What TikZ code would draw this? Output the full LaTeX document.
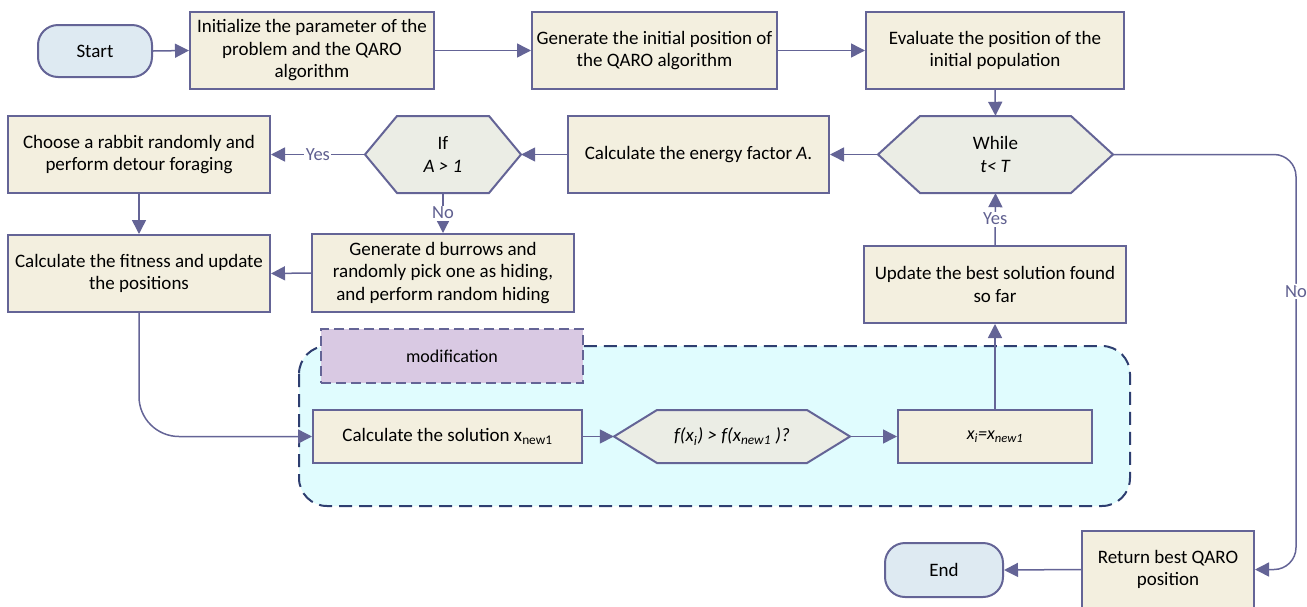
\documentclass[tikz,border=0pt]{standalone}
\usepackage{fontspec}
\setmainfont{Carlito}
\usetikzlibrary{arrows.meta,calc}
\definecolor{linec}{RGB}{100,100,150}
\definecolor{boxfill}{RGB}{243,239,223}
\definecolor{hexfill}{RGB}{235,237,229}
\definecolor{termfill}{RGB}{222,234,242}
\definecolor{regfill}{RGB}{224,252,254}
\definecolor{regline}{RGB}{46,62,112}
\definecolor{modfill}{RGB}{217,201,227}
\definecolor{labc}{RGB}{96,96,144}
\newcommand\hexshape[5]{%
  \draw[hexdraw] ({#1-#3/2},#2) -- ({#1-#3/2+#5},{#2-#4/2}) -- ({#1+#3/2-#5},{#2-#4/2})
   -- ({#1+#3/2},#2) -- ({#1+#3/2-#5},{#2+#4/2}) -- ({#1-#3/2+#5},{#2+#4/2}) -- cycle;}
\begin{document}
\begin{tikzpicture}[x=1pt,y=-1pt,
  every node/.style={font=\fontsize{19}{22.5}\selectfont, align=center, inner sep=0pt},
  procbox/.style={draw=linec, line width=2pt, fill=boxfill, rectangle},
  termbox/.style={draw=linec, line width=2pt, fill=termfill, rounded corners=20pt},
  hexdraw/.style={draw=linec, line width=2pt, fill=hexfill, line join=miter},
  hextext/.style={rectangle},
  conn/.style={draw=linec, line width=1.5pt, -{Triangle[length=14pt,width=14pt]}},
  lab/.style={fill=white, text=labc, font=\fontsize{18.5}{21}\selectfont, inner sep=1.5pt},
]
\useasboundingbox (0,0) rectangle (1307,606);

% modification region
\draw[draw=regline, fill=regfill, line width=2pt, dash pattern=on 13pt off 7pt, rounded corners=28pt]
  (299,346) rectangle (1130,506);
\node[draw=linec, line width=1.8pt, fill=modfill, dash pattern=on 10pt off 5pt,
  minimum width=262pt, minimum height=54pt, font=\fontsize{18}{21}\selectfont] (modif) at (452,356) {modification};

% nodes
\node[termbox, minimum width=114pt, minimum height=52pt] (start) at (95,51) {Start};
\node[procbox, minimum width=244pt, minimum height=77pt] (init) at (312,50.5)
  {Initialize the parameter of the\\problem and the QARO\\algorithm};
\node[procbox, minimum width=245pt, minimum height=77pt] (gen) at (654.5,50.5)
  {Generate the initial position of\\the QARO algorithm};
\node[procbox, minimum width=258pt, minimum height=77pt] (eval) at (995,50.5)
  {Evaluate the position of the\\initial population};

\hexshape{995.5}{154.5}{235}{77}{42}
\node[hextext, minimum width=235pt, minimum height=77pt] (while) at (995.5,154.5)
  {While\\\textit{t}\textit{< T}};
\node[procbox, minimum width=261pt, minimum height=77pt] (energy) at (698.5,154.5)
  {Calculate the energy factor \textit{A}.};
\hexshape{443}{154.5}{156}{77}{32}
\node[hextext, minimum width=156pt, minimum height=77pt] (if) at (443,154.5)
  {If\\\textit{A > 1}};
\node[procbox, minimum width=262pt, minimum height=77pt] (choose) at (139,154.5)
  {Choose a rabbit randomly and\\perform detour foraging};
\node[procbox, minimum width=262pt, minimum height=77pt] (fit) at (139,273.5)
  {Calculate the fitness and update\\the positions};
\node[procbox, minimum width=262pt, minimum height=78pt] (burrow) at (443,273)
  {Generate d burrows and\\randomly pick one as hiding,\\and perform random hiding};
\node[procbox, minimum width=262pt, minimum height=77pt] (update) at (995,284.5)
  {Update the best solution found\\so far};

\node[procbox, minimum width=269pt, minimum height=53pt] (sol) at (447.5,436.5)
  {Calculate the solution x\textsubscript{new1}};
\hexshape{732}{436.5}{236}{53}{43}
\node[hextext, minimum width=236pt, minimum height=53pt, font=\fontsize{19}{22}\selectfont] (fx) at (732,436.5)
  {\textit{f(x\textsubscript{i}) > f(x\textsubscript{new1} )?}};
\node[procbox, minimum width=194pt, minimum height=53pt, font=\fontsize{18}{21}\selectfont] (xi) at (995,436.5)
  {\textit{x\textsubscript{i}=x\textsubscript{new1}}};

\node[procbox, minimum width=172pt, minimum height=77pt] (ret) at (1168,569.5)
  {Return best QARO\\position};
\node[termbox, minimum width=118pt, minimum height=54pt] (end) at (944,570) {End};

\coordinate (nc) at (1296,154.5);

% connectors
\draw[conn] (start.east) -- (init.west);
\draw[conn] (init.east) -- (gen.west);
\draw[conn] (gen.east) -- (eval.west);
\draw[conn] (eval.south) -- (while.north);
\draw[conn] (while.west) -- (energy.east);
\draw[conn] (energy.west) -- (if.east);
\draw[conn] (if.west) -- node[lab] {Yes} (choose.east);
\draw[conn] (if.south) -- node[lab] {No} (burrow.north);
\draw[conn] (choose.south) -- (fit.north);
\draw[conn] (burrow.west) -- (fit.east);
\draw[conn, rounded corners=40pt] (fit.south) |- (sol.west);
\draw[conn] (sol.east) -- (fx.west);
\draw[conn] (fx.east) -- (xi.west);
\draw[conn] (xi.north) -- (update.south);
\draw[conn] (update.north) -- node[lab] {Yes} (while.south);
\draw[conn, rounded corners=22pt] (while.east) -- (nc) |- node[lab, pos=0.165] {No} (ret.east);
\draw[conn] (ret.west) -- (end.east);
\end{tikzpicture}
\end{document}
